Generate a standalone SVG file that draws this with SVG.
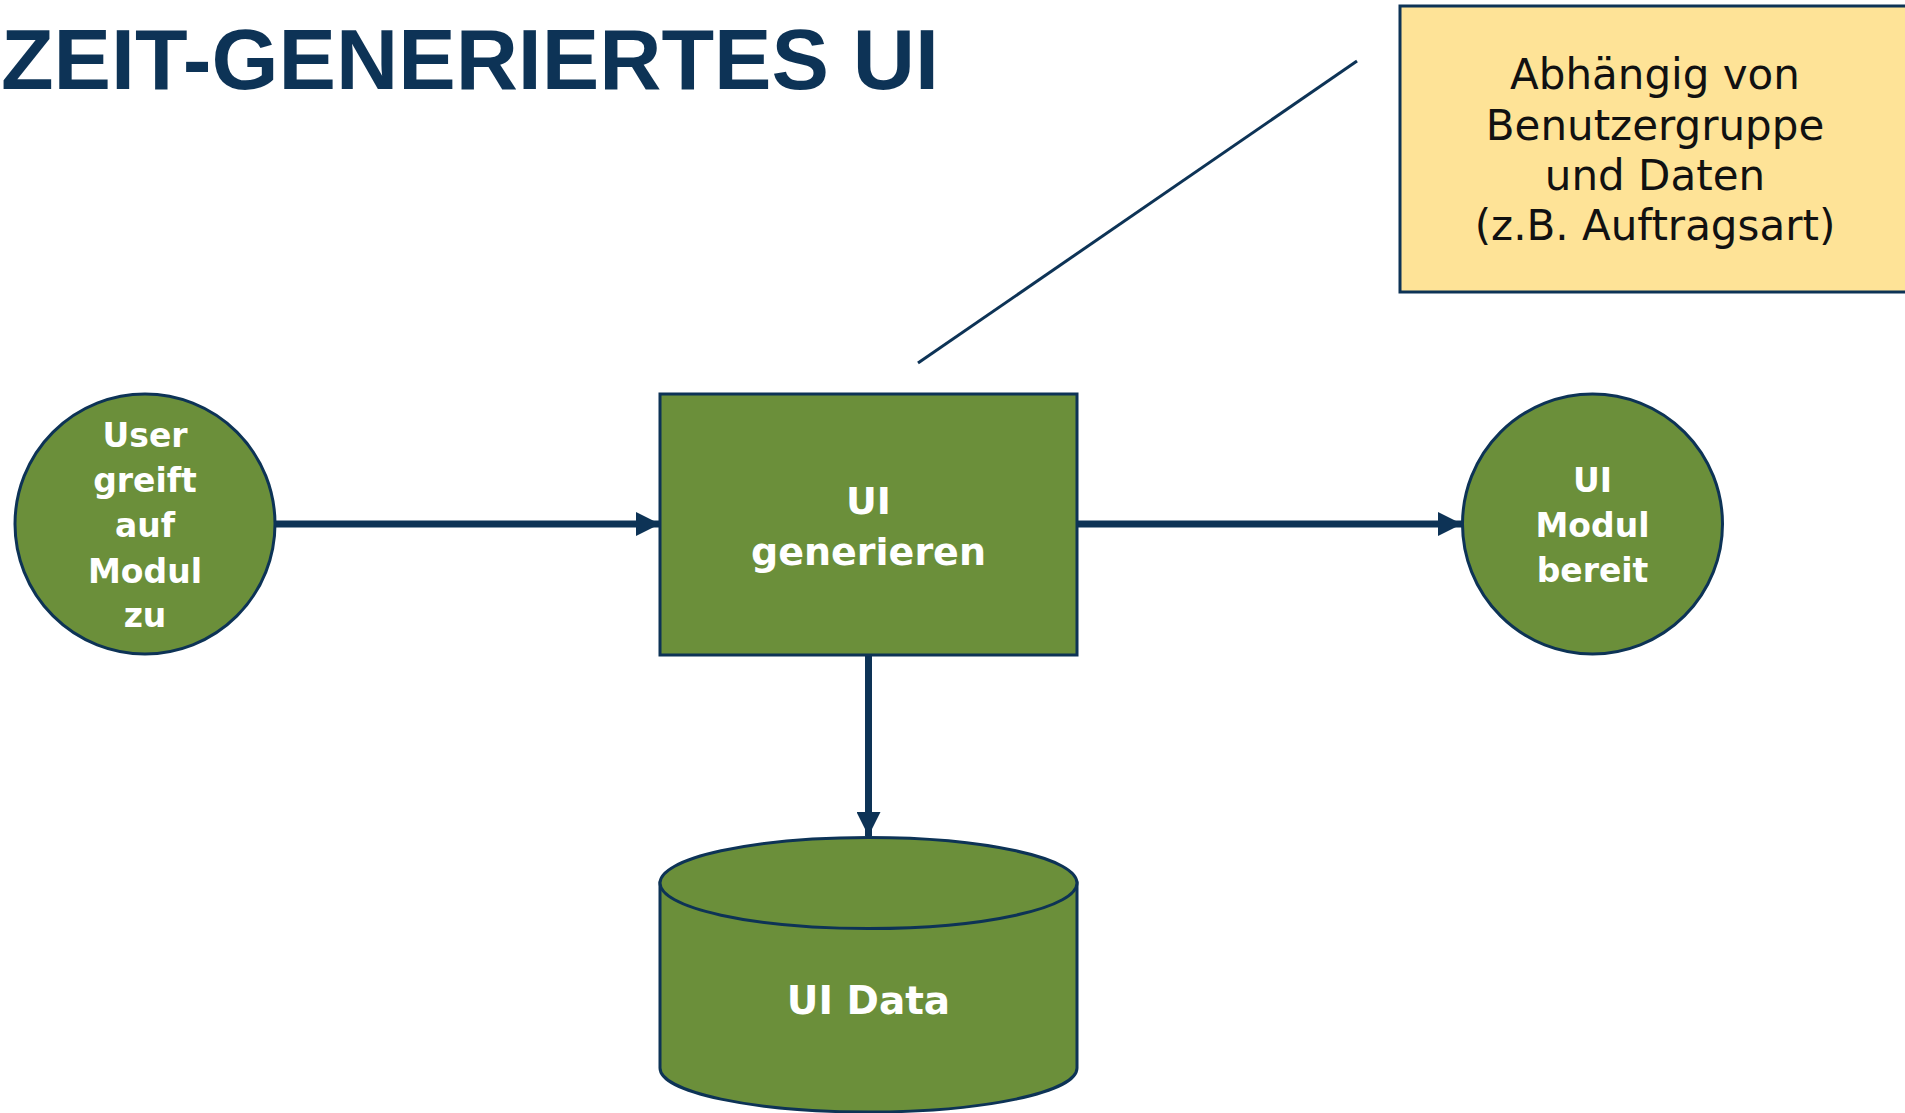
<svg xmlns="http://www.w3.org/2000/svg" width="1905" height="1113" viewBox="0 0 1905 1113">
  <style>
    .shape { fill: #6b8f3a; stroke: #0d3356; stroke-width: 3; }
    .lbl { font-family: "DejaVu Sans", "Liberation Sans", sans-serif; font-weight: bold; fill: #ffffff; text-anchor: middle; }
    .note { font-family: "DejaVu Sans", "Liberation Sans", sans-serif; fill: #111111; text-anchor: middle; font-size: 42px; }
    .conn { stroke: #0d3356; stroke-width: 7; fill: none; }
  </style>
  <defs>
    <marker id="arrow" markerUnits="userSpaceOnUse" markerWidth="24" markerHeight="24" viewBox="0 0 24 24" refX="24" refY="12" orient="auto">
      <path d="M0,0 L24,12 L0,24 Z" fill="#0d3356"/>
    </marker>
  </defs>
  <rect width="1905" height="1113" fill="#ffffff"/>

  <text x="1" y="89" font-family="Liberation Sans, Arial, sans-serif" font-weight="bold" font-size="86" fill="#0d3356" textLength="938" lengthAdjust="spacingAndGlyphs">ZEIT-GENERIERTES UI</text>

  <g id="connectors">
    <line class="conn" x1="276" y1="524" x2="660" y2="524" marker-end="url(#arrow)"/>
    <line class="conn" x1="1077" y1="524" x2="1462" y2="524" marker-end="url(#arrow)"/>
    <line class="conn" x1="868.5" y1="655" x2="868.5" y2="836" marker-end="url(#arrow)"/>
    <line x1="918" y1="363" x2="1357" y2="61" stroke="#0d3356" stroke-width="3"/>
  </g>

  <g id="note">
    <rect x="1400" y="6" width="520" height="286" fill="#fee397" stroke="#0d3356" stroke-width="3"/>
    <text class="note" x="1655" y="89">Abhängig von</text>
    <text class="note" x="1655" y="140">Benutzergruppe</text>
    <text class="note" x="1655" y="190">und Daten</text>
    <text class="note" x="1655" y="240">(z.B. Auftragsart)</text>
  </g>

  <g id="user">
    <circle class="shape" cx="145" cy="524" r="130"/>
    <text class="lbl" font-size="33" x="145" y="447">User</text>
    <text class="lbl" font-size="33" x="145" y="492">greift</text>
    <text class="lbl" font-size="33" x="145" y="537">auf</text>
    <text class="lbl" font-size="33" x="145" y="583">Modul</text>
    <text class="lbl" font-size="33" x="145" y="627">zu</text>
  </g>

  <g id="generate">
    <rect class="shape" x="660" y="394" width="417" height="261"/>
    <text class="lbl" font-size="38" x="868.5" y="514">UI</text>
    <text class="lbl" font-size="38" x="868.5" y="565">generieren</text>
  </g>

  <g id="ready">
    <circle class="shape" cx="1592.5" cy="524" r="130"/>
    <text class="lbl" font-size="33" x="1592.5" y="492">UI</text>
    <text class="lbl" font-size="33" x="1592.5" y="537">Modul</text>
    <text class="lbl" font-size="33" x="1592.5" y="582">bereit</text>
  </g>

  <g id="uidata">
    <path class="shape" d="M660,883 L660,1068 A208.5,44 0 0 0 1077,1068 L1077,883 Z"/>
    <ellipse class="shape" cx="868.5" cy="883" rx="208.5" ry="45.5"/>
    <text class="lbl" font-size="39" x="868.5" y="1014">UI Data</text>
  </g>
</svg>
